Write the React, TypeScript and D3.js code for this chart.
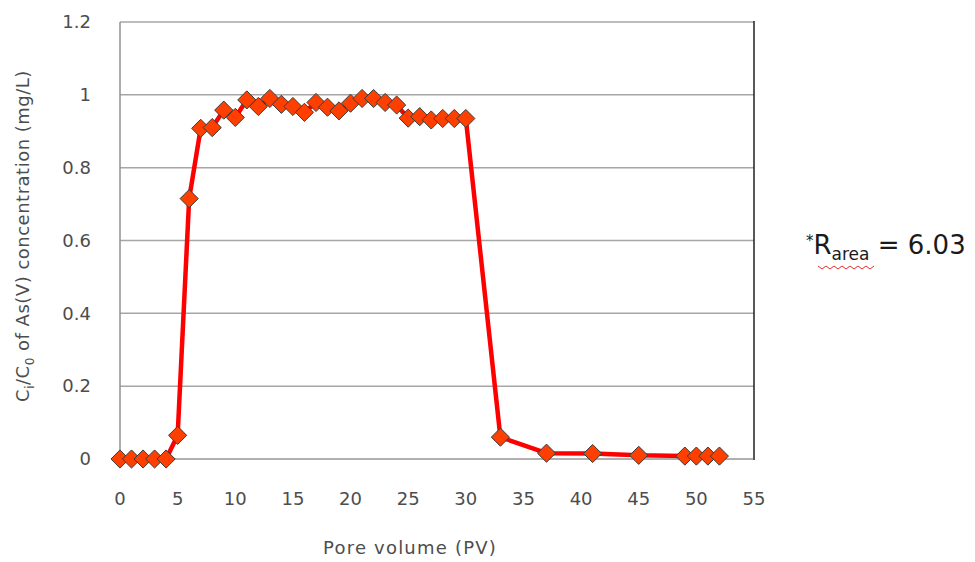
import React from "react";
import * as d3 from "d3";

const pvValues = [0, 1, 2, 3, 4, 5, 6, 7, 8, 9, 10, 11, 12, 13, 14, 15, 16, 17, 18, 19, 20, 21, 22, 23, 24, 25, 26, 27, 28, 29, 30, 33, 37, 41, 45, 49, 50, 51, 52];
const ratioValues = [0, 0, 0, 0, 0, 0.065, 0.715, 0.908, 0.91, 0.958, 0.938, 0.986, 0.968, 0.99, 0.974, 0.968, 0.952, 0.979, 0.966, 0.956, 0.977, 0.99, 0.99, 0.979, 0.972, 0.936, 0.94, 0.931, 0.935, 0.935, 0.935, 0.06, 0.016, 0.015, 0.01, 0.008, 0.008, 0.008, 0.008];
const xTicks = [0, 5, 10, 15, 20, 25, 30, 35, 40, 45, 50, 55];
const yTicks = [0, 0.2, 0.4, 0.6, 0.8, 1, 1.2];

const W = 975;
const H = 562;
const FONT = "'DejaVu Sans', 'Noto Sans', sans-serif";
const TXT = "#4d4d4d";

export default function App() {
  const x = d3.scaleLinear().domain([0, 55]).range([120, 754]);
  const y = d3.scaleLinear().domain([0, 1.2]).range([459, 22]);
  const data = pvValues.map((v, i) => [v, ratioValues[i]] as [number, number]);
  const line = d3.line<[number, number]>().x((d) => x(d[0])).y((d) => y(d[1]));
  const diamond = d3.symbol().type(d3.symbolDiamond2).size(210)();
  const fmt = (v: number) => (v === 0 ? "0" : String(v));

  const wavy = d3.range(0, 15).map((i) => `${i === 0 ? "M" : "L"}${818 + i * 4},${i % 2 === 0 ? 266 : 269}`).join(" ");

  return (
    <svg width={W} height={H} style={{ display: "block", position: "absolute", left: 0, top: 0, background: "#fff" }}>
      {yTicks.filter((t) => t > 0).map((t) => (
        <line key={t} x1={x(0)} x2={x(55)} y1={y(t)} y2={y(t)} stroke="#a6a6a6" strokeWidth={1.5} />
      ))}
      <line x1={x(0)} x2={x(0)} y1={y(1.2)} y2={y(0)} stroke="#909090" strokeWidth={1.5} />
      <line x1={x(55)} x2={x(55)} y1={y(1.2) - 1} y2={y(0) + 1} stroke="#202020" strokeWidth={1.5} />
      <line x1={x(0)} x2={x(55)} y1={y(0)} y2={y(0)} stroke="#606060" strokeWidth={1} />

      {yTicks.map((t) => (
        <text key={t} x={91} y={y(t)} dy="0.35em" textAnchor="end" fontFamily={FONT} fontSize={18} fill={TXT}>
          {fmt(t)}
        </text>
      ))}
      {xTicks.map((t) => (
        <text key={t} x={x(t)} y={499} dy="0.35em" textAnchor="middle" fontFamily={FONT} fontSize={18} fill={TXT}>
          {t}
        </text>
      ))}

      <text x={410} y={548} dy="0.35em" textAnchor="middle" fontFamily={FONT} fontSize={18} letterSpacing={1.2} fill={TXT}>
        Pore volume (PV)
      </text>
      <text transform="translate(23,236) rotate(-90)" textAnchor="middle" dy="0.35em" fontFamily={FONT} fontSize={18} letterSpacing={0.5} fill={TXT}>
        C<tspan fontSize={12} dy={5}>i</tspan>
        <tspan dy={-5}>/C</tspan>
        <tspan fontSize={12} dy={5}>0</tspan>
        <tspan dy={-5}>{"  of As(V) concentration (mg/L)"}</tspan>
      </text>

      <path d={line(data) || ""} fill="none" stroke="#ff0000" strokeWidth={4.5} strokeLinejoin="round" />
      {data.map((d, i) => (
        <path key={i} d={diamond || ""} transform={`translate(${x(d[0])},${y(d[1])})`} fill="#ff3f00" stroke="#3a3a3a" strokeWidth={1} />
      ))}

      <path d={wavy} fill="none" stroke="#e03030" strokeWidth={1} />
      <text x={806} y={254} dy="0.35em" fontFamily={FONT} fontSize={26} fill="#1a1a1a">
        <tspan fontSize={15} dy={-8}>*</tspan>
        <tspan dy={8}>R</tspan>
        <tspan fontSize={17} dy={6}>area</tspan>
        <tspan dy={-6}>{" = 6.03"}</tspan>
      </text>
    </svg>
  );
}
